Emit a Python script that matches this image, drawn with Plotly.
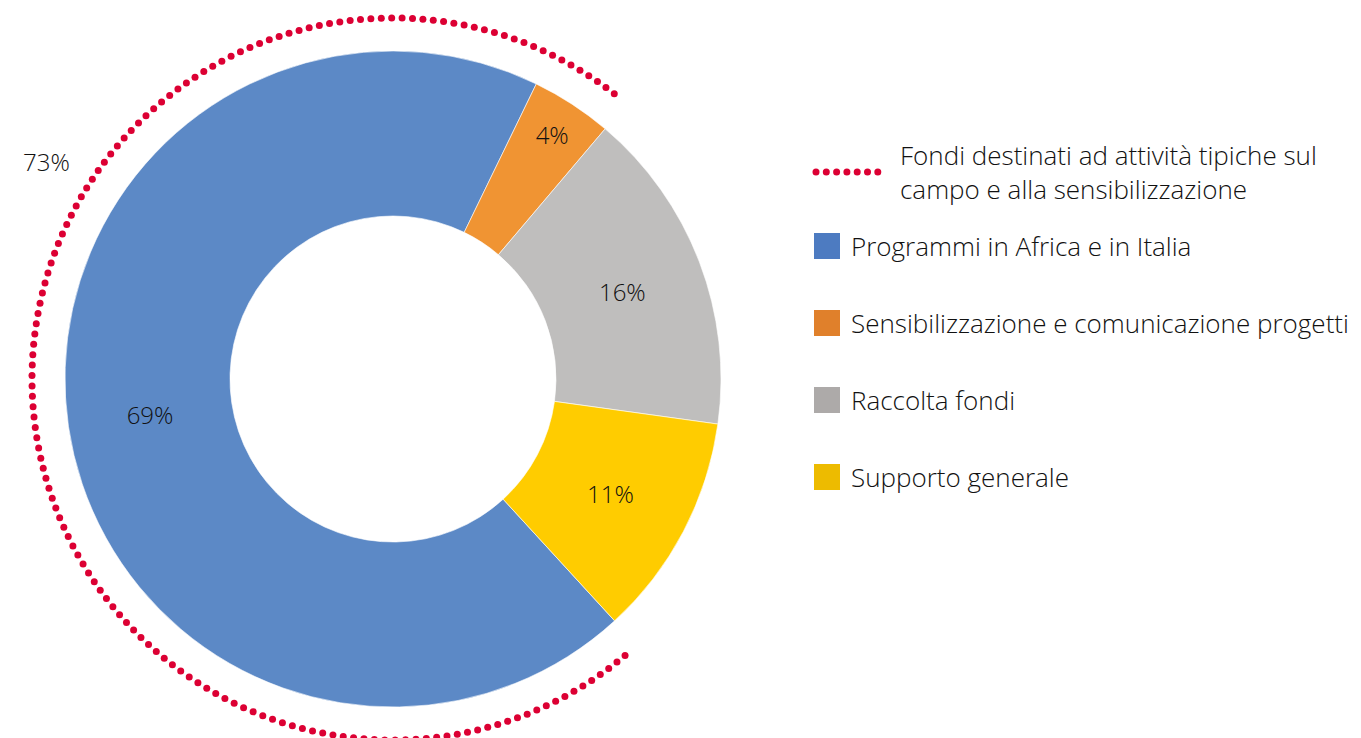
import numpy as np
import plotly.graph_objects as go

# ---- data ----
categories = ["Programmi in Africa e in Italia",
              "Sensibilizzazione e comunicazione progetti",
              "Raccolta fondi",
              "Supporto generale"]
values = [69, 4, 16, 11]
slice_colors = ["#5C89C6", "#F09433", "#BFBEBD", "#FFCC00"]
legend_colors = ["#4D7BC1", "#E0802B", "#ADAAA9", "#EDBB00"]
field_share = 73  # fondi destinati ad attività tipiche sul campo e alla sensibilizzazione
field_label = "Fondi destinati ad attività tipiche sul<br>campo e alla sensibilizzazione"

W, H = 1361, 738
FONT = "Open Sans"
TXT = "#111111"
RED = "#DC0033"

# geometry of the donut (pixels)
cx, cy, R = 393, 379, 328
rotation = 137.5

fig = go.Figure()

fig.add_trace(go.Pie(
    values=values, labels=categories, sort=False, direction="clockwise",
    rotation=rotation, hole=0.497,
    marker=dict(colors=slice_colors, line=dict(color="white", width=0.6)),
    texttemplate="%{value}%", textposition="inside",
    insidetextorientation="horizontal",
    textfont=dict(family=FONT, size=24, color=TXT, weight=300),
    domain=dict(x=[(cx - R) / W, (cx + R) / W], y=[(H - cy - R) / H, (H - cy + R) / H]),
    showlegend=False, hoverinfo="label+percent",
))

# dotted arc for the 73% share
r_arc = 361
gap = 2.5
a0 = rotation + gap
a1 = rotation + field_share / 100 * 360 - gap
arc_len = r_arc * np.deg2rad(a1 - a0)
n = int(round(arc_len / 10.4)) + 1
ang = np.deg2rad(np.linspace(a0, a1, n))
fig.add_trace(go.Scatter(
    x=cx + r_arc * np.sin(ang), y=cy - r_arc * np.cos(ang),
    mode="markers", marker=dict(color=RED, size=7, line=dict(width=0)),
    showlegend=False, hoverinfo="skip",
))

# legend: dotted red entry
lx = 816 + 10.3 * np.arange(7)
fig.add_trace(go.Scatter(
    x=lx, y=np.full(7, 172), mode="markers",
    marker=dict(color=RED, size=7, line=dict(width=0)),
    showlegend=False, hoverinfo="skip",
))

tfont = dict(family=FONT, size=26, color=TXT, weight=300)
annotations = [
    dict(x=46, y=161, text=f"{field_share}%", showarrow=False, xanchor="center", yanchor="middle",
         font=dict(family=FONT, size=24, color=TXT, weight=300)),
    dict(x=898, y=172, text=field_label, showarrow=False, xanchor="left", yanchor="middle",
         align="left", font=tfont),
]
shapes = []
legend_y = [246, 323, 400, 477]
for cat, col, yy in zip(categories, legend_colors, legend_y):
    shapes.append(dict(type="rect", xref="x", yref="y", x0=814, x1=840, y0=yy - 13, y1=yy + 13,
                       fillcolor=col, line=dict(width=0)))
    annotations.append(dict(x=849, y=yy, text=cat, showarrow=False, xanchor="left", yanchor="middle",
                            font=tfont))

fig.update_layout(
    width=W, height=H, margin=dict(l=0, r=0, t=0, b=0),
    paper_bgcolor="white", plot_bgcolor="rgba(0,0,0,0)",
    xaxis=dict(range=[0, W], visible=False, fixedrange=True, domain=[0, 1]),
    yaxis=dict(range=[H, 0], visible=False, fixedrange=True, domain=[0, 1]),
    annotations=annotations, shapes=shapes,
    font=dict(family=FONT),
)

fig.write_html("out.html", config={"displayModeBar": False},
               post_script="document.body.style.margin='0';document.body.style.padding='0';document.body.style.overflow='hidden';")
